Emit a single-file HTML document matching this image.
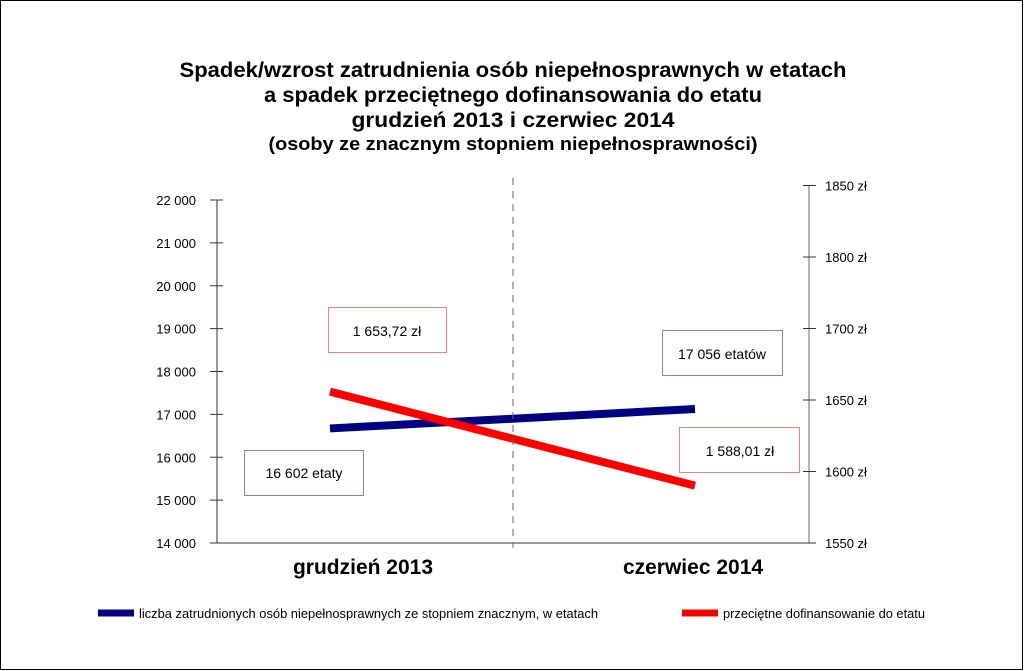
<!DOCTYPE html>
<html><head><meta charset="utf-8"><style>
body{margin:0;background:#fff}
svg{display:block;font-family:"Liberation Sans",sans-serif}
</style></head><body>
<svg width="1024" height="671" viewBox="0 0 1024 671">
<rect x="0.5" y="0.5" width="1022" height="669" fill="#fff" stroke="#000"/>
<g font-weight="bold" text-anchor="middle" fill="#000">
<text x="513" y="77" font-size="21" textLength="667" lengthAdjust="spacingAndGlyphs">Spadek/wzrost zatrudnienia osób niepełnosprawnych w etatach</text>
<text x="513" y="102" font-size="21" textLength="498" lengthAdjust="spacingAndGlyphs">a spadek przeciętnego dofinansowania do etatu</text>
<text x="513" y="127" font-size="21" textLength="323" lengthAdjust="spacingAndGlyphs">grudzień 2013 i czerwiec 2014</text>
<text x="513" y="150" font-size="18" textLength="489" lengthAdjust="spacingAndGlyphs">(osoby ze znacznym stopniem niepełnosprawności)</text>
</g>
<g id="axes"></g>
<g id="marks"></g>
<line x1="513" y1="178" x2="513" y2="548" stroke="#666" stroke-dasharray="7,6"/>
<rect x="328.5" y="307.5" width="118" height="45" fill="#fff" stroke="#f08080"/>
<text x="387" y="336" font-size="14" text-anchor="middle">1 653,72 zł</text>
<rect x="244.5" y="450.5" width="119" height="45" fill="#fff" stroke="#8080d0"/>
<text x="304" y="478" font-size="14" text-anchor="middle">16 602 etaty</text>
<rect x="662.5" y="330.5" width="120" height="45" fill="#fff" stroke="#8080d0"/>
<text x="722" y="359" font-size="14" text-anchor="middle">17 056 etatów</text>
<rect x="679.5" y="427.5" width="120" height="45" fill="#fff" stroke="#f08080"/>
<text x="740" y="456" font-size="14" text-anchor="middle">1 588,01 zł</text>
<g>
<line x1="98" y1="613" x2="134" y2="613" stroke="#000080" stroke-width="7"/>
<text x="139" y="618" font-size="13" textLength="459" lengthAdjust="spacingAndGlyphs">liczba zatrudnionych osób niepełnosprawnych ze stopniem znacznym, w etatach</text>
<line x1="682" y1="613" x2="718" y2="613" stroke="#ff0000" stroke-width="7"/>
<text x="723" y="618" font-size="13" textLength="202" lengthAdjust="spacingAndGlyphs">przeciętne dofinansowanie do etatu</text>
</g>
</svg>
<script>
const categories=["grudzień 2013","czerwiec 2014"];
const employment=[16602,17056];
const subsidy=[1653.72,1588.01];
const leftTicks=[14000,15000,16000,17000,18000,19000,20000,21000,22000];
const leftTickLabels=["14 000","15 000","16 000","17 000","18 000","19 000","20 000","21 000","22 000"];
const rightTicks=[1550,1600,1650,1700,1750,1800];
const rightTickLabels=["1550 zł","1600 zł","1650 zł","1700 zł","1800 zł","1850 zł"];
const NS="http://www.w3.org/2000/svg";
const yL=v=>543-(v-14000)*(343/8000);
const yR=v=>543-(v-1550)*(143/100);
const xCat=i=>330+i*365;
const xLab=i=>363+i*330;
const axes=document.getElementById('axes'),marks=document.getElementById('marks');
function mk(tag,attrs,parent){const e=document.createElementNS(NS,tag);for(const k in attrs)e.setAttribute(k,attrs[k]);parent.appendChild(e);return e;}
let e;
e=mk('line',{x1:217,y1:200,x2:217,y2:543,stroke:'#333'},axes);


e=mk('line',{x1:217,y1:543,x2:809,y2:543,stroke:'#333'},axes);


e=mk('line',{x1:809,y1:185,x2:809,y2:543,stroke:'#666'},axes);


leftTicks.forEach((v,i)=>{
 e=mk('line',{x1:210,y1:yL(v),x2:223,y2:yL(v),stroke:'#333'},axes);
 
 
 e=mk('text',{x:196,y:yL(v)+5,'font-size':13,'text-anchor':'end'},axes);e.textContent=leftTickLabels[i];
 
 
});
rightTicks.forEach((v,i)=>{
 e=mk('line',{x1:803,y1:yR(v),x2:816,y2:yR(v),stroke:'#333'},axes);
 
 
 e=mk('text',{x:825,y:yR(v)+5,'font-size':13},axes);e.textContent=rightTickLabels[i];
 
 
});
categories.forEach((c,i)=>{
 e=mk('text',{x:xLab(i),y:574,'font-size':21,'font-weight':'bold','text-anchor':'middle'},axes);e.textContent=c;
 
 
});
e=mk('line',{x1:xCat(0),y1:yL(employment[0])-3,x2:xCat(1),y2:yL(employment[1])-3,stroke:'#000080','stroke-width':8},marks);


e=mk('line',{x1:xCat(0),y1:yR(subsidy[0])-3,x2:xCat(1),y2:yR(subsidy[1])-3,stroke:'#ff0000','stroke-width':8},marks);


</script>
</body></html>
